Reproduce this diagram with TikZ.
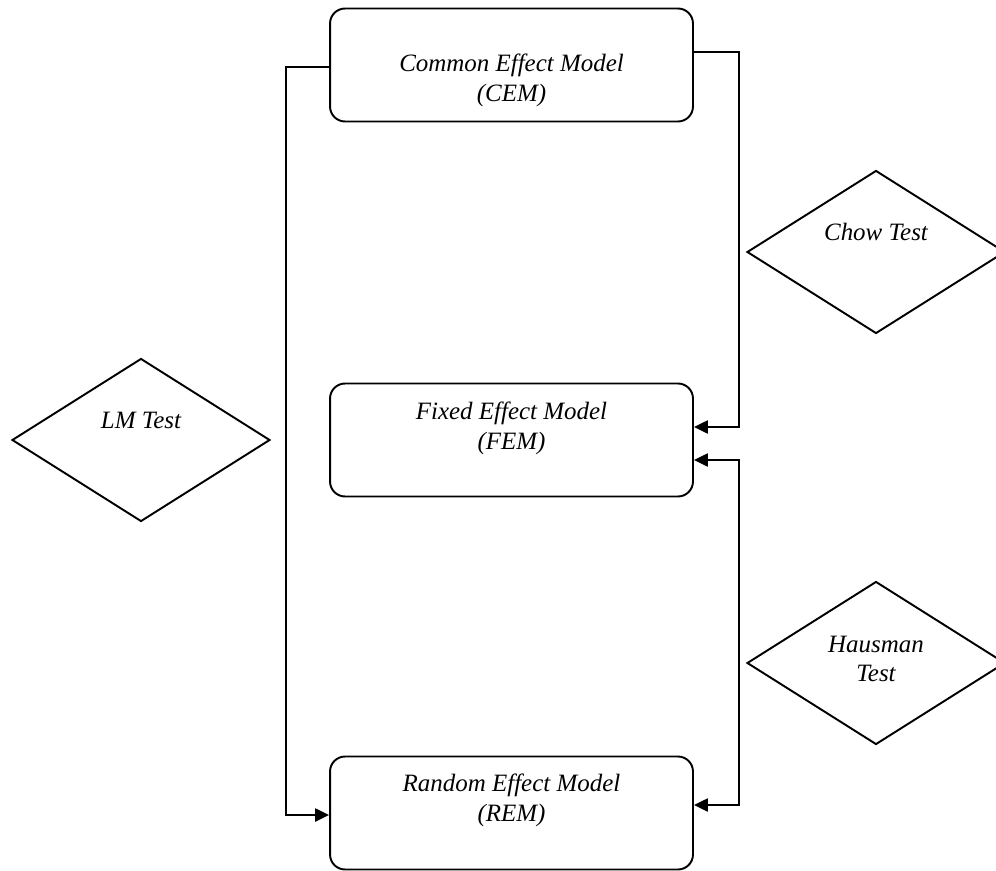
\documentclass[tikz,border=0pt]{standalone}
\usepackage{fontspec}
\setmainfont{Liberation Serif}
\usetikzlibrary{arrows.meta,shapes.geometric,calc}

\begin{document}
\begin{tikzpicture}[x=0.02cm, y=-0.02cm]
    \tikzstyle{every node}=[font=\fontsize{14.2pt}{17pt}\selectfont\itshape]
    \tikzstyle{model}=[draw, line width=1.1pt, rounded corners=0.3cm,
        minimum width=7.26cm, minimum height=2.26cm, inner sep=0pt]
    \tikzstyle{test}=[draw, line width=1.1pt, diamond,
        minimum width=5.16cm, minimum height=3.26cm, inner sep=0pt]
    \tikzstyle{link}=[line width=1.1pt, -{Triangle[length=8pt, width=7.5pt]}]

      \useasboundingbox (0,0) rectangle (996,871);
      \clip (0,0) rectangle (996,871);

      % model boxes
      \node[model] (cem) at (511.5, 65) {};
      \node[model] (fem) at (511.5, 440) {};
      \node[model] (rem) at (511.5, 813) {};

      \node[align=center] (cemtext) at (511.5, 80) {Common Effect Model\\(CEM)};
      \node[align=center] (femtext) at (511.5, 428) {Fixed Effect Model\\(FEM)};
      \node[align=center] (remtext) at (511.5, 800) {Random Effect Model\\(REM)};

      % test diamonds
      \node[test] (chow) at (876, 252) {};
      \node[test] (lm) at (141, 440) {};
      \node[test] (haus) at (876, 663) {};

      \node (chowtext) at (876, 232) {Chow Test};
      \node (lmtext) at (141, 420) {LM Test};
      \node[align=center] (haustext) at (876, 659) {Hausman\\Test};

      % turning points
      \coordinate (L1) at (286, 67);
      \coordinate (L2) at (286, 815);
      \coordinate (C1) at (739, 52);
      \coordinate (C2) at (739, 427);
      \coordinate (H1) at (739, 460);
      \coordinate (H2) at (739, 805);

      % connectors
      \draw[link] (cem.west |- L1) -- (L1) -- (L2) -- (rem.west |- L2);
      \draw[link] (cem.east |- C1) -- (C1) -- (C2) -- (fem.east |- C2);
      \draw[link, {Triangle[length=8pt, width=7.5pt]}-{Triangle[length=8pt, width=7.5pt]}]
          (fem.east |- H1) -- (H1) -- (H2) -- (rem.east |- H2);

\end{tikzpicture}
\end{document}
